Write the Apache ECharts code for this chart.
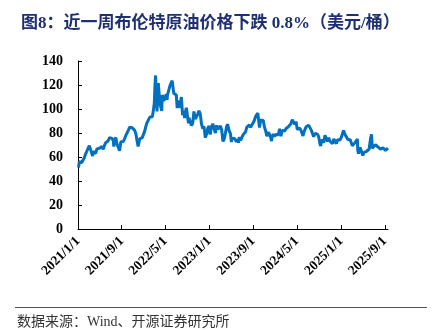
<!DOCTYPE html>
<html><head><meta charset="utf-8">
<script src="https://cdn.jsdelivr.net/npm/echarts@6/dist/echarts.min.js"></script>
<style>html,body{margin:0;padding:0;background:#fff}#c{width:437px;height:330px}</style>
</head><body><div id="c"></div>
<script>
const titleText = '图8：近一周布伦特原油价格下跌 0.8%（美元/桶）';
const sourceText = '数据来源：Wind、开源证券研究所';
const xTickLabels = ['2021/1/1','2021/9/1','2022/5/1','2023/1/1','2023/9/1','2024/5/1','2025/1/1','2025/9/1'];
const yTicks = [0,20,40,60,80,100,120,140];
const axisStart = '2021-01-01';

const dates2021 = ['2021-01-04','2021-01-08','2021-01-13','2021-01-15','2021-01-22','2021-01-29','2021-02-05','2021-02-12','2021-02-19','2021-02-25','2021-03-05','2021-03-11','2021-03-12','2021-03-18','2021-03-23','2021-03-26','2021-04-01','2021-04-09','2021-04-16','2021-04-23','2021-04-30','2021-05-07','2021-05-14','2021-05-21','2021-05-28','2021-06-04','2021-06-11','2021-06-18','2021-06-25','2021-07-05','2021-07-09','2021-07-16','2021-07-19','2021-07-23','2021-07-30','2021-08-06','2021-08-13','2021-08-20','2021-08-27','2021-09-03','2021-09-10','2021-09-17','2021-09-24','2021-10-01','2021-10-08','2021-10-15','2021-10-25','2021-10-29','2021-11-05','2021-11-12','2021-11-19','2021-11-26','2021-12-01','2021-12-03','2021-12-10','2021-12-17','2021-12-24','2021-12-31'];
const brent2021 = [51.09,55.99,56.06,55.10,55.41,55.88,59.34,62.43,62.91,66.88,69.36,69.63,69.22,63.28,60.79,64.57,64.86,62.95,66.77,66.11,67.25,68.28,68.71,66.44,69.63,71.89,72.69,73.51,76.18,77.16,75.55,73.59,68.62,74.10,76.33,70.70,70.59,65.18,72.70,72.61,72.92,75.34,78.09,79.28,82.39,84.86,86.40,84.38,82.74,82.17,78.89,72.72,68.87,69.88,75.15,73.52,76.14,77.78];

const dates2022 = ['2022-01-07','2022-01-14','2022-01-19','2022-01-21','2022-01-28','2022-02-04','2022-02-11','2022-02-18','2022-02-24','2022-03-01','2022-03-04','2022-03-08','2022-03-11','2022-03-16','2022-03-18','2022-03-23','2022-03-25','2022-04-01','2022-04-11','2022-04-14','2022-04-22','2022-04-29','2022-05-06','2022-05-11','2022-05-13','2022-05-20','2022-05-27','2022-06-03','2022-06-08','2022-06-10','2022-06-17','2022-06-22','2022-06-24','2022-07-01','2022-07-06','2022-07-08','2022-07-15','2022-07-22','2022-07-29','2022-08-05','2022-08-12','2022-08-16','2022-08-19','2022-08-26','2022-09-02','2022-09-07','2022-09-09','2022-09-16','2022-09-23','2022-09-30','2022-10-07','2022-10-14','2022-10-21','2022-10-28','2022-11-04','2022-11-11','2022-11-18','2022-11-25','2022-12-02','2022-12-09','2022-12-16','2022-12-23','2022-12-30'];
const brent2022 = [81.75,86.06,88.44,87.89,90.03,93.27,94.44,93.54,99.08,104.97,118.11,127.98,112.67,98.02,107.93,121.60,120.65,104.39,98.48,111.70,106.65,109.34,112.39,107.51,111.55,112.55,119.43,119.72,123.58,122.01,113.12,111.74,113.12,111.63,100.69,107.02,101.16,103.20,110.01,94.92,98.15,92.34,96.72,100.99,93.02,88.00,92.84,91.35,86.15,87.96,97.92,91.63,93.50,95.77,98.57,95.99,87.62,83.63,85.57,76.10,79.04,83.92,85.91];

const dates2023 = ['2023-01-05','2023-01-13','2023-01-20','2023-01-27','2023-02-03','2023-02-10','2023-02-17','2023-02-24','2023-03-03','2023-03-10','2023-03-17','2023-03-24','2023-03-31','2023-04-06','2023-04-12','2023-04-21','2023-04-28','2023-05-03','2023-05-05','2023-05-12','2023-05-19','2023-05-26','2023-05-31','2023-06-09','2023-06-12','2023-06-16','2023-06-23','2023-06-30','2023-07-07','2023-07-14','2023-07-21','2023-07-28','2023-08-04','2023-08-11','2023-08-18','2023-08-25','2023-09-01','2023-09-08','2023-09-15','2023-09-22','2023-09-27','2023-09-29','2023-10-06','2023-10-13','2023-10-20','2023-10-27','2023-11-03','2023-11-10','2023-11-16','2023-11-24','2023-12-01','2023-12-08','2023-12-12','2023-12-15','2023-12-22','2023-12-29'];
const brent2023 = [78.69,85.28,87.63,86.66,79.94,86.39,83.00,83.16,85.83,82.78,72.97,74.99,79.77,85.12,87.33,81.66,79.54,72.33,75.30,74.17,75.58,76.95,72.66,74.79,71.84,76.61,73.85,74.90,78.47,79.87,81.07,84.99,86.24,86.81,84.80,84.48,88.55,90.65,93.93,93.27,96.55,95.31,84.58,90.89,92.16,90.48,84.89,81.43,77.42,80.58,78.88,75.84,73.24,76.55,79.07,77.04];

const dates2024 = ['2024-01-05','2024-01-12','2024-01-19','2024-01-26','2024-02-02','2024-02-09','2024-02-16','2024-02-23','2024-03-01','2024-03-08','2024-03-15','2024-03-22','2024-03-28','2024-04-05','2024-04-12','2024-04-19','2024-04-26','2024-05-03','2024-05-10','2024-05-17','2024-05-24','2024-05-31','2024-06-04','2024-06-07','2024-06-14','2024-06-21','2024-06-28','2024-07-05','2024-07-12','2024-07-19','2024-07-26','2024-08-02','2024-08-09','2024-08-16','2024-08-23','2024-08-30','2024-09-06','2024-09-10','2024-09-13','2024-09-20','2024-09-27','2024-10-04','2024-10-11','2024-10-18','2024-10-25','2024-11-01','2024-11-08','2024-11-15','2024-11-22','2024-11-29','2024-12-06','2024-12-13','2024-12-20','2024-12-27'];
const brent2024 = [78.76,78.29,78.56,83.55,77.33,82.19,83.47,81.62,83.55,82.08,85.34,85.43,87.48,91.17,90.45,87.29,89.50,82.96,82.79,83.98,82.12,81.62,77.52,79.62,82.62,85.24,86.41,86.54,85.03,82.63,81.13,76.81,79.66,79.68,79.02,76.93,71.06,69.19,71.61,74.49,71.98,78.05,79.04,73.06,76.05,73.10,73.87,71.04,75.17,72.94,71.12,74.49,72.94,74.17];

const dates2025 = ['2025-01-03','2025-01-10','2025-01-15','2025-01-17','2025-01-24','2025-01-31','2025-02-07','2025-02-14','2025-02-21','2025-02-28','2025-03-05','2025-03-07','2025-03-14','2025-03-21','2025-03-28','2025-04-02','2025-04-04','2025-04-08','2025-04-11','2025-04-17','2025-04-25','2025-05-02','2025-05-05','2025-05-09','2025-05-16','2025-05-23','2025-05-30','2025-06-06','2025-06-13','2025-06-19','2025-06-20','2025-06-24','2025-06-27','2025-07-04','2025-07-11','2025-07-18','2025-07-25','2025-08-01','2025-08-08','2025-08-15','2025-08-22','2025-08-29','2025-09-05','2025-09-12','2025-09-19'];
const brent2025 = [76.51,79.76,82.03,81.29,78.50,76.76,74.66,74.74,74.43,73.18,69.30,70.36,70.58,72.16,73.63,74.95,65.58,62.82,64.76,67.96,66.87,61.29,60.23,63.91,65.41,64.78,63.90,66.47,74.23,78.85,77.01,67.14,67.77,68.30,70.36,69.28,68.44,69.67,66.59,65.85,67.73,68.12,65.50,66.99,67.40];

const DAY = 86400000;
function toDay(s){ const p = s.replace(/\//g,'-').split('-').map(Number); return Math.round((Date.UTC(p[0], p[1]-1, p[2]) - Date.UTC(2021,0,1)) / DAY); }
const allDates = [].concat(dates2021, dates2022, dates2023, dates2024, dates2025);
const allVals = [].concat(brent2021, brent2022, brent2023, brent2024, brent2025);
const seriesData = allDates.map((d,i)=>[toDay(d), allVals[i]]);
const tickDays = xTickLabels.map(toDay);

const serif = "'Liberation Serif', 'Times New Roman', 'Noto Sans CJK SC', serif";
const chart = echarts.init(document.getElementById('c'), null, {renderer:'canvas'});
chart.setOption({
  animation:false,
  backgroundColor:'#fff',
  title:{ text:titleText, left:16, top:10, textStyle:{ fontFamily:serif, fontSize:17, fontWeight:'bold', color:'#1E2F73' } },
  grid:{ left:78, right:49, top:61, bottom:101, containLabel:false },
  xAxis:{
    type:'value', min:toDay(axisStart), max:toDay(allDates[allDates.length-1]),
    axisLine:{ show:true, lineStyle:{ color:'#000', width:1 } },
    axisTick:{ show:true, inside:true, length:4, customValues:tickDays, lineStyle:{ color:'#000' } },
    axisLabel:{ customValues:tickDays, rotate:45, margin:10, fontFamily:serif, fontSize:13.5, fontWeight:'bold', color:'#000',
      formatter:function(v){ const i = tickDays.indexOf(v); return i>=0 ? xTickLabels[i] : ''; } },
    splitLine:{ show:false }
  },
  yAxis:{
    type:'value', min:yTicks[0], max:yTicks[yTicks.length-1], interval:yTicks[1]-yTicks[0],
    axisLine:{ show:true, lineStyle:{ color:'#000', width:1 } },
    axisTick:{ show:true, inside:true, length:4, lineStyle:{ color:'#000' } },
    axisLabel:{ margin:15, fontFamily:serif, fontSize:14, fontWeight:'bold', color:'#000' },
    splitLine:{ show:false }
  },
  series:[{ type:'line', data:seriesData, showSymbol:false, symbol:'none', lineStyle:{ color:'#0070C0', width:3 }, itemStyle:{ color:'#0070C0' } }],
  graphic:[
    { type:'line', shape:{ x1:15, y1:307.5, x2:427, y2:307.5 }, style:{ stroke:'#555', lineWidth:1 } },
    { type:'text', left:17, top:315, style:{ text:sourceText, font:"14px 'Liberation Serif', 'Noto Sans CJK SC', serif", fill:'#333' } }
  ]
});
</script></body></html>
